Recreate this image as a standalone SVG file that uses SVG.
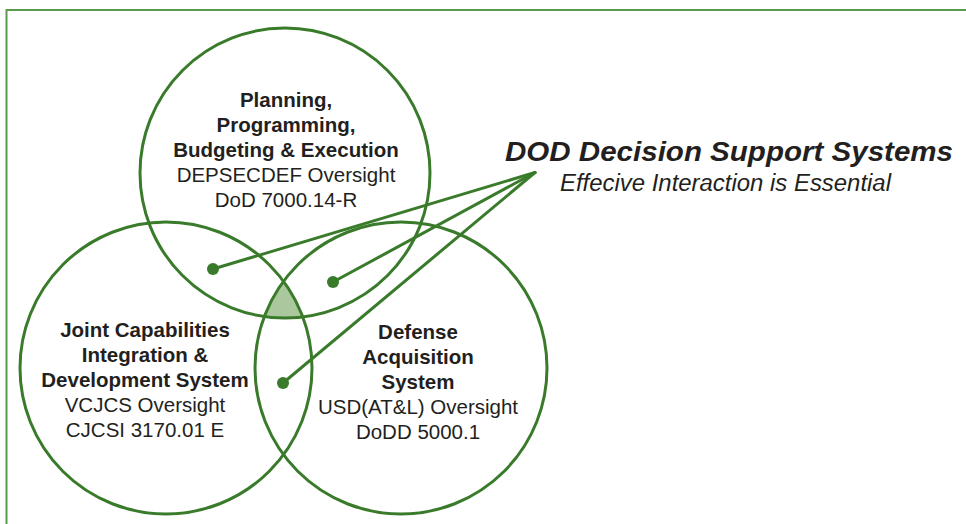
<svg xmlns="http://www.w3.org/2000/svg" width="966" height="524" viewBox="0 0 966 524">
<style>
.ring{fill:none;stroke:#3a7b2b;stroke-width:3}
.conn{stroke:#3a7b2b;stroke-width:3;fill:none;stroke-linecap:round}
.dot{fill:#3a7b2b}
text{font-family:"Liberation Sans",Arial,Helvetica,sans-serif;fill:#231f20;text-anchor:middle;font-size:20.5px}
.b{font-weight:bold}
</style>
<defs>
<clipPath id="clipTop"><circle cx="285" cy="173" r="145"/></clipPath>
<clipPath id="clipBR"><circle cx="401" cy="368" r="146"/></clipPath>
</defs>
<rect x="6.5" y="10" width="980" height="530" fill="#fff" stroke="#5a9a4c" stroke-width="2"/>
<g clip-path="url(#clipTop)"><circle cx="166" cy="368" r="146" fill="#abc79e" clip-path="url(#clipBR)"/></g>
<g id="ppbe"><circle class="ring" cx="285" cy="173" r="145"/>
<text class="b" x="286" y="107">Planning,</text>
<text class="b" x="286" y="132">Programming,</text>
<text class="b" x="286" y="157">Budgeting &amp; Execution</text>
<text x="286" y="182">DEPSECDEF Oversight</text>
<text x="286" y="207">DoD 7000.14-R</text>
</g>
<g id="jcids"><circle class="ring" cx="166" cy="368" r="146"/>
<text class="b" x="145" y="337">Joint Capabilities</text>
<text class="b" x="145" y="362">Integration &amp;</text>
<text class="b" x="145" y="387">Development System</text>
<text x="145" y="412">VCJCS Oversight</text>
<text x="145" y="437">CJCSI 3170.01 E</text>
</g>
<g id="das"><circle class="ring" cx="401" cy="368" r="146"/>
<text class="b" x="418" y="339">Defense</text>
<text class="b" x="418" y="364">Acquisition</text>
<text class="b" x="418" y="389">System</text>
<text x="418" y="414">USD(AT&amp;L) Oversight</text>
<text x="418" y="439">DoDD 5000.1</text>
</g>
<g id="connectors">
<line class="conn" x1="535" y1="172.5" x2="213" y2="269"/>
<line class="conn" x1="535" y1="172.5" x2="333" y2="282"/>
<line class="conn" x1="535" y1="172.5" x2="283" y2="383"/>
<circle class="dot" cx="213" cy="269" r="6"/>
<circle class="dot" cx="333" cy="282" r="6"/>
<circle class="dot" cx="283" cy="383" r="6"/>
</g>
<g id="title">
<text x="505" y="161" style="text-anchor:start;font-weight:bold;font-style:italic;font-size:28px" textLength="448" lengthAdjust="spacingAndGlyphs">DOD Decision Support Systems</text>
<text x="560" y="191" style="text-anchor:start;font-style:italic;font-size:23px" textLength="331" lengthAdjust="spacingAndGlyphs">Effecive Interaction is Essential</text>
</g>
</svg>
